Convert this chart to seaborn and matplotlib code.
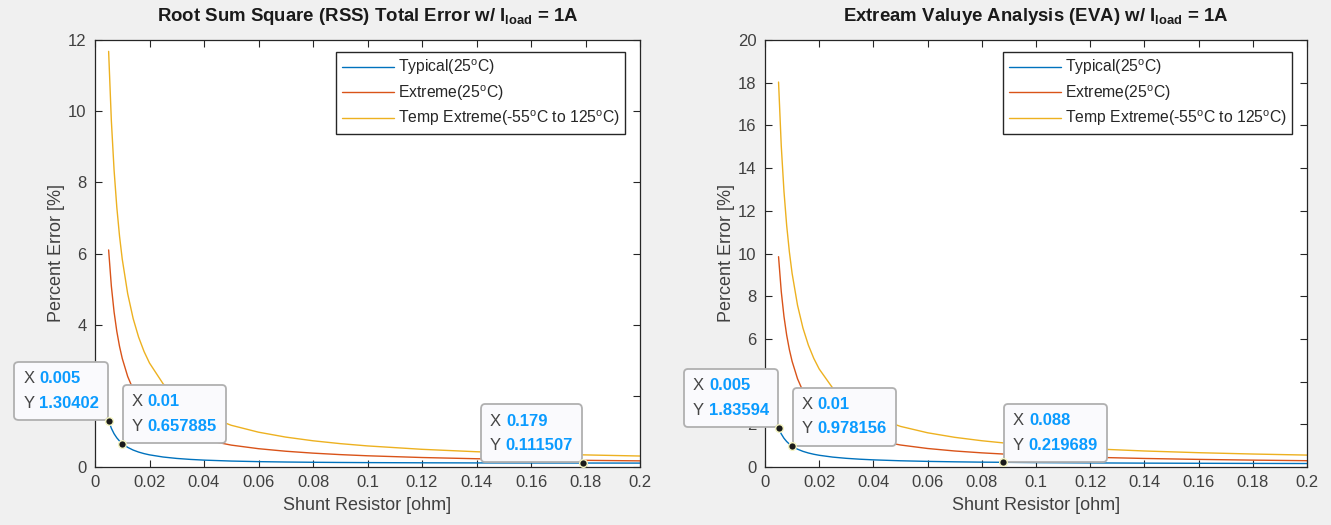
import matplotlib
matplotlib.use("Agg")
import matplotlib.pyplot as plt
import seaborn as sns
from matplotlib.offsetbox import TextArea, HPacker, VPacker, AnnotationBbox
from matplotlib.ticker import FuncFormatter, MultipleLocator

# ---- Root Sum Square (RSS) error vs shunt resistance ----
x_rss = [0.005, 0.006, 0.007, 0.008, 0.009, 0.010, 0.012, 0.014, 0.016, 0.018,
         0.020, 0.025, 0.030, 0.035, 0.040, 0.050, 0.060, 0.070, 0.080, 0.090,
         0.100, 0.120, 0.140, 0.160, 0.179, 0.200]
rss_typical = [1.30402, 1.0884, 0.9345, 0.8193, 0.7298, 0.657885, 0.5518, 0.476,
               0.4196, 0.376, 0.3415, 0.2804, 0.2407, 0.2133, 0.1934, 0.167,
               0.1508, 0.1401, 0.1327, 0.1274, 0.1234, 0.118, 0.1147, 0.1125,
               0.111507, 0.1098]
rss_extreme = [6.10, 5.084, 4.358, 3.813, 3.390, 3.051, 2.543, 2.180, 1.908, 1.696,
               1.527, 1.223, 1.020, 0.8751, 0.7667, 0.6152, 0.5146, 0.4430, 0.3896,
               0.3482, 0.3153, 0.2665, 0.2321, 0.2067, 0.1882, 0.1722]
rss_temp = [11.68, 9.734, 8.344, 7.301, 6.490, 5.841, 4.868, 4.172, 3.651, 3.246,
            2.922, 2.338, 1.949, 1.6716, 1.4634, 1.1723, 0.9784, 0.8403, 0.7368,
            0.6566, 0.5925, 0.4969, 0.4289, 0.3785, 0.3413, 0.3087]
rss_tips = [0.005, 0.010, 0.179]

# ---- Extreme value analysis (EVA) error vs shunt resistance ----
x_eva = [0.005, 0.006, 0.007, 0.008, 0.009, 0.010, 0.012, 0.014, 0.016, 0.018,
         0.020, 0.025, 0.030, 0.035, 0.040, 0.050, 0.060, 0.070, 0.080, 0.088,
         0.100, 0.120, 0.140, 0.160, 0.180, 0.200]
eva_typical = [1.83594, 1.55, 1.3457, 1.1925, 1.0733, 0.978156, 0.835, 0.7329,
               0.6563, 0.5967, 0.549, 0.4632, 0.406, 0.3651, 0.3345, 0.2916,
               0.263, 0.2426, 0.2273, 0.219689, 0.2058, 0.1915, 0.1813, 0.1736,
               0.1677, 0.1629]
eva_extreme = [9.85, 8.217, 7.05, 6.175, 5.494, 4.95, 4.133, 3.55, 3.1125, 2.772,
               2.5, 2.01, 1.683, 1.45, 1.275, 1.03, 0.8667, 0.75, 0.6625, 0.6068,
               0.54, 0.4583, 0.4, 0.356, 0.3222, 0.295]
eva_temp = [18.03, 15.04, 12.91, 11.31, 10.07, 9.07, 7.577, 6.51, 5.71, 5.088,
            4.59, 3.694, 3.097, 2.67, 2.35, 1.902, 1.603, 1.39, 1.23, 1.128,
            1.006, 0.857, 0.75, 0.67, 0.608, 0.558]
eva_tips = [0.005, 0.010, 0.088]

series_labels = [r"Typical(25$^{\mathrm{o}}$C)",
                 r"Extreme(25$^{\mathrm{o}}$C)",
                 r"Temp Extreme(-55$^{\mathrm{o}}$C to 125$^{\mathrm{o}}$C)"]
x_ticks = [0, 0.02, 0.04, 0.06, 0.08, 0.1, 0.12, 0.14, 0.16, 0.18, 0.2]

sns.set_theme(style="white")
plt.rcParams.update({
    "font.family": ["Liberation Sans", "DejaVu Sans"],
    "mathtext.fontset": "custom",
    "mathtext.rm": "Liberation Sans",
    "mathtext.it": "Liberation Sans:italic",
    "mathtext.bf": "Liberation Sans:bold",
})

COLORS = ["#0072BD", "#D95319", "#EDB120"]
INK = "#262626"
TICK_TXT = "#404040"
W, H = 1331, 525

fig = plt.figure(figsize=(W / 100, H / 100), dpi=100, facecolor="#f0f0f0")
ax1 = fig.add_axes([95 / W, 1 - 467 / H, 545 / W, 427 / H])
ax2 = fig.add_axes([765 / W, 1 - 467 / H, 542 / W, 427 / H])


def datatip(ax, x, y, align):
    tp_lbl = dict(color="#454545", size=12)
    tp_val = dict(color="#0a9bff", size=12, weight="bold")
    row_x = HPacker(children=[TextArea("X ", textprops=tp_lbl),
                              TextArea(f"{x:g}", textprops=tp_val)], pad=0, sep=0)
    row_y = HPacker(children=[TextArea("Y ", textprops=tp_lbl),
                              TextArea(f"{y:g}", textprops=tp_val)], pad=0, sep=0)
    content = VPacker(children=[row_x, row_y], pad=0, sep=7, align="left")
    dx = -7 if align[0] == 1 else 7
    ab = AnnotationBbox(content, (x, y), xybox=(dx, 7), boxcoords="offset points",
                        box_alignment=align, frameon=True, fontsize=12,
                        bboxprops=dict(boxstyle="round,pad=0.55,rounding_size=0.25",
                                       fc="#fafafd", ec="#b0b0b0", lw=1.3))
    ab.set_clip_on(False)
    ab.set_zorder(10)
    ax.add_artist(ab)
    ax.plot([x], [y], "o", ms=5.5, mfc="#1a1a1a", mec="#f4f4c0", mew=1.0,
            zorder=12, clip_on=False)


def panel(ax, x, curves, tips, aligns, ymax, title, covered_tick):
    for vals, col, lab in zip(curves, COLORS, series_labels):
        sns.lineplot(x=x, y=vals, ax=ax, color=col, lw=1.0, label=lab)
    ax.set_xlim(0, 0.2)
    ax.set_ylim(0, ymax)
    ax.set_xticks(x_ticks)
    ax.yaxis.set_major_locator(MultipleLocator(2))
    # the tick label sitting under the first datatip box is not shown
    fmt_y = FuncFormatter(lambda v, p: "" if abs(v - covered_tick) < 1e-9 else f"{v:g}")
    ax.xaxis.set_major_formatter(FuncFormatter(lambda v, p: f"{v:g}"))
    ax.yaxis.set_major_formatter(fmt_y)
    ax.set_facecolor("white")
    for sp in ax.spines.values():
        sp.set_color(INK)
        sp.set_linewidth(0.9)
        sp.set_visible(True)
    ax.tick_params(direction="in", length=5, width=0.8, color=INK,
                   top=True, right=True, bottom=True, left=True,
                   labelsize=12, labelcolor=TICK_TXT, pad=6)
    ax.set_xlabel("Shunt Resistor [ohm]", fontsize=13, color=TICK_TXT, labelpad=5)
    ax.set_ylabel("Percent Error [%]", fontsize=13, color=TICK_TXT, labelpad=2)
    ax.set_title(title, fontsize=13.4, fontweight="bold", color="#1a1a1a", pad=14)
    leg = ax.legend(loc="upper right", bbox_to_anchor=(1 - 15 / 545, 1 - 12 / 427),
                    borderaxespad=0, fontsize=11.3, frameon=True, fancybox=False,
                    framealpha=1, edgecolor=INK, handlelength=3.3,
                    handletextpad=0.25, labelspacing=0.38, borderpad=0.35)
    leg.get_frame().set_linewidth(1.0)
    leg.set_zorder(5)
    for tx, al in zip(tips, aligns):
        datatip(ax, tx, curves[0][x.index(tx)], al)


panel(ax1, x_rss, [rss_typical, rss_extreme, rss_temp], rss_tips,
      [(1, 0), (0, 0), (1, 0)], 12,
      r"Root Sum Square (RSS) Total Error w/ I$_{\mathbf{load}}$ = 1A", 2)
panel(ax2, x_eva, [eva_typical, eva_extreme, eva_temp], eva_tips,
      [(1, 0), (0, 0), (0, 0)], 20,
      r"Extream Valuye Analysis (EVA) w/ I$_{\mathbf{load}}$ = 1A", 4)

fig.savefig("out.png", dpi=100, facecolor=fig.get_facecolor())
